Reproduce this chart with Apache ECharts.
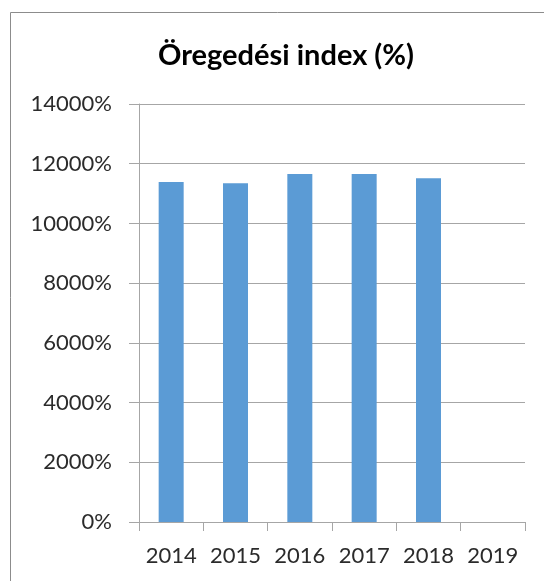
<!DOCTYPE html>
<html>
<head>
<meta charset="utf-8">
<script src="https://cdn.jsdelivr.net/npm/echarts@6/dist/echarts.min.js"></script>
<style>
  html, body { margin: 0; padding: 0; background: #fff; }
  #chart { width: 544px; height: 581px; }
</style>
</head>
<body>
<div id="chart"></div>
<script>
// evek es az oregedesi index ertekei (2019-re nincs adat)
const years = ['2014', '2015', '2016', '2017', '2018', '2019']
const indexValues = [11390, 11344, 11656, 11656, 11510, null]
const yTicks = { min: 0, max: 14000, step: 2000 }

const myChart = echarts.init(document.querySelector('#chart'))
const gray = '#a6a6a6'
const font = 'Lato, "Open Sans", sans-serif'

const option = {
  animation: false,
  title: {
    text: 'Öregedési index (%)',
    left: 153,
    top: 36,
    textStyle: {
      fontFamily: font,
      fontSize: 29,
      fontWeight: 'bold',
      color: '#000'
    }
  },
  // keret a diagram korul
  graphic: [{
    type: 'rect',
    shape: { x: 10.5, y: 12.5, width: 560, height: 600 },
    style: { fill: 'none', stroke: '#8c8c8c', lineWidth: 1 },
    silent: true
  }],
  grid: {
    left: 139,
    right: 19,
    top: 104,
    bottom: 59
  },
  xAxis: {
    type: 'category',
    data: years,
    axisLine: { lineStyle: { color: gray } },
    axisTick: { show: true, length: 9, lineStyle: { color: gray } },
    axisLabel: {
      interval: 0,
      margin: 23,
      fontFamily: font,
      fontSize: 22,
      color: '#2b2b2b'
    }
  },
  yAxis: {
    type: 'value',
    min: yTicks.min,
    max: yTicks.max,
    interval: yTicks.step,
    axisLine: { show: true, lineStyle: { color: gray } },
    axisTick: { show: true, length: 10, lineStyle: { color: gray } },
    splitLine: { lineStyle: { color: gray } },
    axisLabel: {
      margin: 27,
      formatter: v => v + '%',
      fontFamily: font,
      fontSize: 22,
      color: '#2b2b2b'
    }
  },
  series: [{
    type: 'bar',
    data: indexValues,
    barWidth: 25,
    itemStyle: { color: '#5b9bd5' }
  }]
}

myChart.setOption(option)
</script>
</body>
</html>
